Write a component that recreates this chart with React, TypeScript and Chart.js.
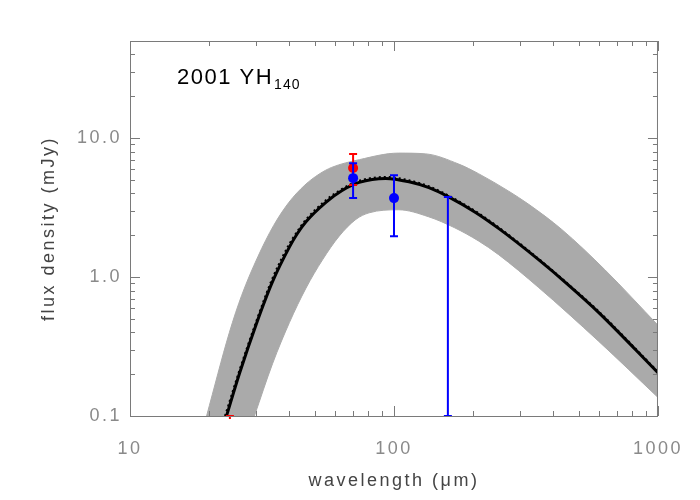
import React, { useEffect, useRef } from "react";
import { Chart, registerables } from "chart.js";

Chart.register(...registerables);

// ---- data ----
const modelWave = [23.2, 26, 30.1, 34.7, 40.2, 43, 46.4, 55.2, 63.6, 73.8, 93, 114, 135.6, 161, 203, 249, 352, 457, 594, 1000];
const modelFlux = [0.1, 0.203, 0.46, 0.93, 1.65, 2.05, 2.5, 3.45, 4.2, 4.8, 5.13, 4.85, 4.4, 3.78, 2.93, 2.24, 1.34, 0.88, 0.56, 0.205];

const dottedWave = [22.9, 25.8, 29.9, 34.4, 39.9, 42.8, 46.2, 55, 63.6, 73.8, 93, 114, 135.6, 161, 203, 249, 352, 457, 594, 1000];
const dottedFlux = [0.1, 0.205, 0.465, 0.95, 1.7, 2.1, 2.57, 3.55, 4.31, 4.93, 5.26, 4.97, 4.5, 3.86, 2.99, 2.28, 1.36, 0.89, 0.57, 0.208];

const bandUpperWave = [19.5, 23.8, 26.5, 30.5, 35, 40, 46, 52, 58, 74, 104, 132, 176, 209, 272, 323, 432, 629, 1000];
const bandUpperFlux = [0.1, 0.4, 0.74, 1.4, 2.35, 3.45, 4.6, 5.5, 6.15, 7.0, 7.8, 7.7, 6.5, 5.55, 4.15, 3.35, 2.2, 1.13, 0.45];

const bandLowerWave = [29.6, 34.7, 40.2, 46.4, 53.6, 62, 71.7, 80.5, 104, 135, 170, 209, 249, 352, 594, 1000];
const bandLowerFlux = [0.1, 0.239, 0.472, 0.832, 1.33, 1.97, 2.6, 2.9, 3.05, 2.72, 2.26, 1.82, 1.45, 0.845, 0.347, 0.136];

const redWave = [23.9, 70];
const redFlux = [0.05, 6.1];
const redLow = [0.02, 4.6];
const redHigh = [0.1, 7.7];

const blueWave = [70, 100, 160];
const blueFlux: (number | null)[] = [5.15, 3.7, null];
const blueLow = [3.7, 1.97, 0.1];
const blueHigh = [6.6, 5.4, 3.77];

const xTickValues = [10, 20, 30, 40, 50, 60, 70, 80, 90, 100, 200, 300, 400, 500, 600, 700, 800, 900, 1000];
const xMajor = [10, 100, 1000];
const xLabels = ["10", "100", "1000"];
const yTickValues = [0.1, 0.2, 0.3, 0.4, 0.5, 0.6, 0.7, 0.8, 0.9, 1, 2, 3, 4, 5, 6, 7, 8, 9, 10, 20, 30, 40];
const yMajor = [0.1, 1, 10];
const yLabels = ["0.1", "1.0", "10.0"];

const titleMain = "2001 YH";
const titleSub = "140";
const xTitle = "wavelength (\u03bcm)";
const yTitle = "flux density (mJy)";

const FONT = "'Liberation Sans', Arial, sans-serif";
const BAND = "#aaaaaa";

const isMajor = (list: number[], v: number) => list.findIndex((m) => Math.abs(m - v) / m < 1e-6);

const errorBarPlugin = {
  id: "errorBars",
  beforeDatasetDraw(chart: any, args: any) {
    const ds = chart.data.datasets[args.index];
    if (!ds.errHigh) return;
    const { ctx, chartArea } = chart;
    const xs = chart.scales.x;
    const ys = chart.scales.y;
    ctx.save();
    ctx.beginPath();
    ctx.rect(chartArea.left - 6, chartArea.top - 6, chartArea.right - chartArea.left + 12, chartArea.bottom - chartArea.top + 9);
    ctx.clip();
    ctx.strokeStyle = ds.errColor;
    ctx.lineWidth = 2;
    for (let i = 0; i < ds.errX.length; i++) {
      const px = xs.getPixelForValue(ds.errX[i]);
      const lo = ys.getPixelForValue(ds.errLow[i]);
      const hi = ys.getPixelForValue(ds.errHigh[i]);
      ctx.beginPath();
      ctx.moveTo(px, lo);
      ctx.lineTo(px, hi);
      ctx.moveTo(px - 4, lo);
      ctx.lineTo(px + 4, lo);
      ctx.moveTo(px - 4, hi);
      ctx.lineTo(px + 4, hi);
      ctx.stroke();
    }
    ctx.restore();
  },
};

const framePlugin = {
  id: "frame",
  beforeDraw(chart: any) {
    chart.ctx.letterSpacing = "2.5px";
  },
  afterDatasetsDraw(chart: any) {
    const { ctx, chartArea: a } = chart;
    const xs = chart.scales.x;
    const ys = chart.scales.y;
    ctx.save();
    ctx.strokeStyle = "#7a7a7a";
    ctx.lineWidth = 1;
    ctx.strokeRect(a.left + 0.5, a.top + 0.5, a.right - a.left - 1, a.bottom - a.top);
    ctx.beginPath();
    xTickValues.forEach((v) => {
      const px = Math.round(xs.getPixelForValue(v)) + 0.5;
      const len = isMajor(xMajor, v) >= 0 ? 10 : 5;
      ctx.moveTo(px, a.bottom);
      ctx.lineTo(px, a.bottom - len);
      ctx.moveTo(px, a.top);
      ctx.lineTo(px, a.top + len);
    });
    yTickValues.forEach((v) => {
      const py = Math.round(ys.getPixelForValue(v)) + 0.5;
      const len = isMajor(yMajor, v) >= 0 ? 10 : 5;
      ctx.moveTo(a.left, py);
      ctx.lineTo(a.left + len, py);
      ctx.moveTo(a.right, py);
      ctx.lineTo(a.right - len, py);
    });
    ctx.stroke();
    ctx.restore();
  },
  afterDraw(chart: any) {
    const { ctx, chartArea: a } = chart;
    ctx.save();
    ctx.fillStyle = "#000";
    ctx.letterSpacing = "1.5px";
    ctx.textAlign = "left";
    ctx.textBaseline = "alphabetic";
    ctx.font = `22px ${FONT}`;
    const x0 = a.left + 47;
    ctx.fillText(titleMain, x0, 84);
    const w = ctx.measureText(titleMain).width;
    ctx.font = `14px ${FONT}`;
    ctx.letterSpacing = "1px";
    ctx.fillText(titleSub, x0 + w + 1, 89);
    ctx.restore();
    ctx.letterSpacing = "0px";
  },
};

export default function App() {
  const ref = useRef<HTMLCanvasElement>(null);
  useEffect(() => {
    document.body.style.margin = "0";
    const canvas = ref.current;
    if (!canvas) return;

    const chart = new Chart(canvas, {
      type: "scatter",
      data: {
        datasets: [
          {
            label: "blue",
            data: blueWave.map((x, i) => ({ x, y: blueFlux[i] })) as any,
            backgroundColor: "#0000ff",
            borderColor: "#0000ff",
            pointRadius: 5,
            pointBorderWidth: 0,
            order: 0,
            errX: blueWave,
            errLow: blueLow,
            errHigh: blueHigh,
            errColor: "#0000ff",
          } as any,
          {
            label: "red",
            data: redWave.map((x, i) => ({ x, y: redFlux[i] })),
            backgroundColor: "#ff0000",
            borderColor: "#ff0000",
            pointRadius: 5,
            pointBorderWidth: 0,
            order: 1,
            errX: redWave,
            errLow: redLow,
            errHigh: redHigh,
            errColor: "#ff0000",
          } as any,
          {
            label: "dotted",
            data: dottedWave.map((x, i) => ({ x, y: dottedFlux[i] })),
            showLine: true,
            borderColor: "#000",
            borderWidth: 2,
            borderDash: [2, 3],
            pointRadius: 0,
            cubicInterpolationMode: "monotone",
            order: 2,
          } as any,
          {
            label: "model",
            data: modelWave.map((x, i) => ({ x, y: modelFlux[i] })),
            showLine: true,
            borderColor: "#000",
            borderWidth: 3,
            pointRadius: 0,
            cubicInterpolationMode: "monotone",
            order: 3,
          } as any,
          {
            label: "band lower",
            data: bandLowerWave.map((x, i) => ({ x, y: bandLowerFlux[i] })),
            showLine: true,
            borderColor: BAND,
            borderWidth: 1,
            backgroundColor: "#ffffff",
            fill: "start",
            pointRadius: 0,
            cubicInterpolationMode: "monotone",
            order: 4,
          } as any,
          {
            label: "band upper",
            data: bandUpperWave.map((x, i) => ({ x, y: bandUpperFlux[i] })),
            showLine: true,
            borderColor: BAND,
            borderWidth: 1,
            backgroundColor: BAND,
            fill: "start",
            pointRadius: 0,
            cubicInterpolationMode: "monotone",
            order: 5,
          } as any,
        ],
      },
      options: {
        animation: false,
        responsive: false,
        devicePixelRatio: 1,
        events: [],
        layout: { padding: { top: 41, right: 40, left: 0, bottom: 0 } },
        plugins: { legend: { display: false }, tooltip: { enabled: false } },
        scales: {
          x: {
            type: "logarithmic",
            position: "bottom",
            min: 10,
            max: 1000,
            grid: { display: false, drawTicks: false },
            border: { display: false },
            afterBuildTicks: (s: any) => {
              s.ticks = xTickValues.map((v) => ({ value: v }));
            },
            afterFit: (s: any) => {
              s.height = 84;
            },
            ticks: {
              autoSkip: false,
              maxRotation: 0,
              minRotation: 0,
              padding: 22,
              color: "#8a8a8a",
              font: { size: 18, family: FONT },
              callback: (v: any) => {
                const i = isMajor(xMajor, Number(v));
                return i >= 0 ? xLabels[i] : "";
              },
            },
            title: {
              display: true,
              text: xTitle,
              color: "#444",
              font: { size: 18, family: FONT },
              padding: { top: 0, bottom: 8 },
            },
          },
          y: {
            type: "logarithmic",
            position: "left",
            min: 0.1,
            max: 50,
            grid: { display: false, drawTicks: false },
            border: { display: false },
            afterBuildTicks: (s: any) => {
              s.ticks = yTickValues.map((v) => ({ value: v }));
            },
            afterFit: (s: any) => {
              s.width = 130;
            },
            ticks: {
              autoSkip: false,
              padding: 8,
              color: "#8a8a8a",
              font: { size: 18, family: FONT },
              callback: (v: any) => {
                const i = isMajor(yMajor, Number(v));
                return i >= 0 ? yLabels[i] : "";
              },
            },
            title: {
              display: true,
              text: yTitle,
              color: "#444",
              font: { size: 18, family: FONT },
              padding: { top: 38, bottom: 0 },
            },
          },
        },
      } as any,
      plugins: [errorBarPlugin, framePlugin],
    });
    return () => chart.destroy();
  }, []);

  return (
    <div style={{ width: 700, height: 500 }}>
      <canvas ref={ref} width={700} height={500} style={{ display: "block", width: 700, height: 500 }} />
    </div>
  );
}
